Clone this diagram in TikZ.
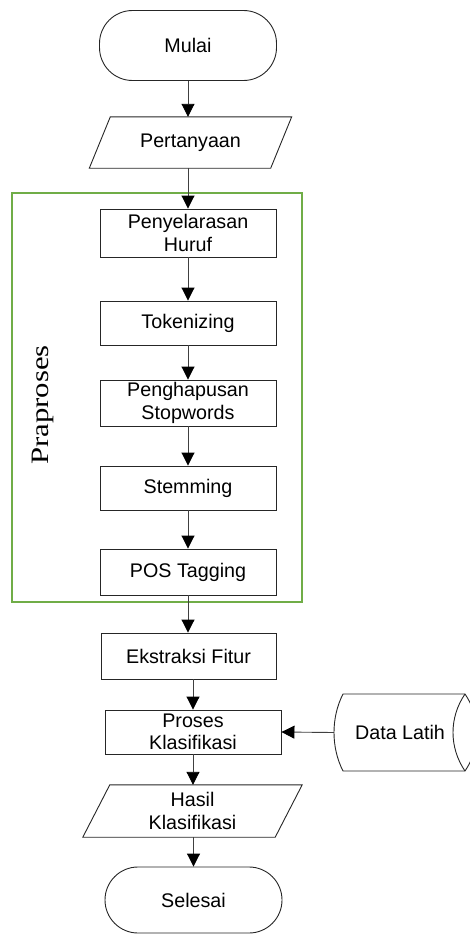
\documentclass[tikz,border=0pt]{standalone}
\usepackage{fontspec}
\setmainfont{Liberation Sans}
\newfontfamily\praserif{Liberation Serif}
\usetikzlibrary{arrows.meta}
\definecolor{grpgreen}{RGB}{112,173,71}
\newcommand\iodraw[2]{\draw[shapeline] ([xshift=#2]#1.north west) -- ([xshift=#2]#1.north east) -- ([xshift=-#2]#1.south east) -- ([xshift=-#2]#1.south west) -- cycle;}
\begin{document}
\begin{tikzpicture}[x=1pt,y=-1pt,
  shapeline/.style={draw=black!85, line width=0.9pt},
  txt/.style={font=\fontsize{19.7}{22.5}\selectfont, align=center, inner sep=0pt},
  terminal/.style={txt, shapeline, rectangle, rounded corners=33pt, minimum width=177pt, minimum height=68pt},
  procbox/.style={txt, shapeline, rectangle, minimum width=176pt},
  iobox/.style={txt, rectangle},
  arr/.style={draw=black!75, line width=0.9pt, -{Triangle[width=13pt,length=13pt,color=black]}}
]
\useasboundingbox (0,0) rectangle (469,934);

% group frame
\node[draw=grpgreen, line width=2pt, minimum width=290pt, minimum height=409pt, inner sep=0pt] (grp) at (157,397.5) {};
\node[rotate=90, inner sep=0pt] (pra) at (43,405) {\praserif\fontsize{25}{28}\selectfont\scalebox{1.23}[1]{Praproses}};

\node[terminal, minimum height=70pt] (mulai) at (188,45.5) {Mulai};
\node[iobox, minimum width=181pt, minimum height=51pt] (pert) at (190.5,142.5) {Pertanyaan};
\iodraw{pert}{10.5pt}

\node[procbox, minimum height=48pt] (peny) at (188,233) {Penyelarasan\\Huruf};
\node[procbox, minimum height=44pt] (tok) at (188,323) {Tokenizing};
\node[procbox, minimum height=46pt] (peng) at (188,403) {Penghapusan\\Stopwords};
\node[procbox, minimum height=44pt] (stem) at (188,488) {Stemming};
\node[procbox, minimum height=46pt] (pos) at (188,572) {POS Tagging};
\node[procbox, minimum width=175pt, minimum height=46pt] (ekst) at (188.5,656) {Ekstraksi Fitur};
\node[procbox, minimum height=44pt] (proses) at (193,732) {Proses\\Klasifikasi};
\node[iobox, minimum width=192pt, minimum height=52pt] (hasil) at (192.5,811) {Hasil\\Klasifikasi};
\iodraw{hasil}{13.5pt}
\node[terminal, minimum height=66pt] (selesai) at (193.5,900) {Selesai};

% Data Latih (stored data)
\node[txt, rectangle, minimum width=132pt, minimum height=77pt] (data) at (400,732.5) {Data Latih};
\draw[shapeline, shift={(data.center)}]
  (-57,-38.5) .. controls (-69,-15) and (-69,15) .. (-57,38.5)
  -- (65,38.5) .. controls (81,15) and (81,-15) .. (65,-38.5) -- cycle;
\draw[shapeline, shift={(data.center)}]
  (65,-38.5) .. controls (49,-15) and (49,15) .. (65,38.5);

% connectors
\draw[arr] (mulai.south) -- (mulai.south |- pert.north);
\draw[arr] (peny.north |- pert.south) -- (peny.north);
\draw[arr] (peny) -- (tok);
\draw[arr] (tok) -- (peng);
\draw[arr] (peng) -- (stem);
\draw[arr] (stem) -- (pos);
\draw[arr] (pos.south) -- (pos.south |- ekst.north);
\draw[arr] (proses.north |- ekst.south) -- (proses.north);
\draw[arr] (proses.south) -- (proses.south |- hasil.north);
\draw[arr] (selesai.north |- hasil.south) -- (selesai.north);
\draw[arr] (data.west) -- (proses.east);
\end{tikzpicture}
\end{document}
